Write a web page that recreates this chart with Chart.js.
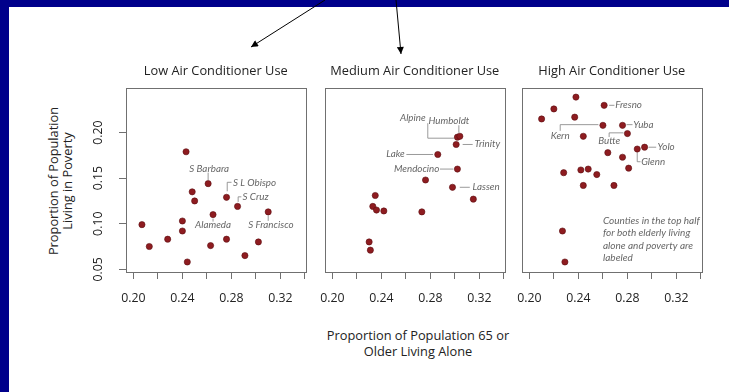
<!DOCTYPE html>
<html>
<head>
<meta charset="utf-8">
<script src="https://cdn.jsdelivr.net/npm/chart.js@4.4.1/dist/chart.umd.min.js"></script>
<style>
  html, body { margin: 0; padding: 0; background: #fff; }
  #page { position: relative; width: 729px; height: 392px; overflow: hidden; background: #fff; font-family: "Open Sans", sans-serif; color: #222; }
  .bar-top { position: absolute; left: 0; top: 0; width: 729px; height: 7px; background: #00008b; }
  .bar-left { position: absolute; left: 0; top: 0; width: 9px; height: 392px; background: #00008b; }
  canvas { position: absolute; }
  .xtitle { position: absolute; left: 298px; width: 240px; top: 328px; text-align: center; font-size: 12.8px; line-height: 15.5px; }
  .ytitle { position: absolute; left: -60px; width: 240px; top: 167px; height: 28px; text-align: center; font-size: 12.8px; line-height: 14px; transform: rotate(-90deg); transform-origin: 120px 14px; }
  svg { position: absolute; left: 0; top: 0; }
</style>
</head>
<body>
<div id="page">
  <canvas id="low" width="241" height="250" style="left:76px;top:60px"></canvas>
  <canvas id="med" width="209" height="250" style="left:307px;top:60px"></canvas>
  <canvas id="high" width="209" height="250" style="left:504px;top:60px"></canvas>
  <div class="ytitle">Proportion of Population<br>Living in Poverty</div>
  <div class="xtitle">Proportion of Population 65 or<br>Older Living Alone</div>
  <div class="bar-top"></div>
  <div class="bar-left"></div>
  <svg width="729" height="392">
    <defs>
      <marker id="head" viewBox="0 0 10 10" refX="10" refY="5" markerWidth="9" markerHeight="7" markerUnits="userSpaceOnUse" orient="auto">
        <path d="M0,0 L10,5 L0,10 z" fill="#000"/>
      </marker>
    </defs>
    <line x1="325" y1="0" x2="251" y2="47" stroke="#000" stroke-width="1" marker-end="url(#head)"/>
    <line x1="396" y1="0" x2="401" y2="54" stroke="#000" stroke-width="1" marker-end="url(#head)"/>
  </svg>
</div>
<script>
// axis ticks
const xTicks = [0.20, 0.22, 0.24, 0.26, 0.28, 0.30, 0.32, 0.34];
const xTickLabels = ['0.20', '0.24', '0.28', '0.32'];
const yTicks = [0.05, 0.10, 0.15, 0.20];

// Low air conditioner use
const lowX = [0.243, 0.261, 0.248, 0.276, 0.250, 0.285, 0.310, 0.265, 0.207, 0.240, 0.240, 0.228, 0.213, 0.263, 0.276, 0.302, 0.291, 0.244];
const lowY = [0.179, 0.144, 0.135, 0.129, 0.125, 0.119, 0.113, 0.110, 0.099, 0.103, 0.092, 0.083, 0.075, 0.076, 0.083, 0.080, 0.065, 0.058];
const lowNames = ['', 'S Barbara', '', 'S L Obispo', '', 'S Cruz', 'S Francisco', 'Alameda', '', '', '', '', '', '', '', '', '', ''];

// Medium air conditioner use
const medX = [0.302, 0.304, 0.301, 0.286, 0.302, 0.276, 0.298, 0.315, 0.235, 0.233, 0.236, 0.242, 0.273, 0.230, 0.231];
const medY = [0.195, 0.196, 0.187, 0.176, 0.160, 0.148, 0.140, 0.127, 0.131, 0.119, 0.115, 0.114, 0.113, 0.080, 0.071];
const medNames = ['Alpine', 'Humboldt', 'Trinity', 'Lake', 'Mendocino', '', 'Lassen', '', '', '', '', '', '', '', ''];

// High air conditioner use
const highX = [0.238, 0.220, 0.261, 0.210, 0.237, 0.260, 0.276, 0.244, 0.280, 0.288, 0.294, 0.264, 0.276, 0.281, 0.228, 0.242, 0.248, 0.255, 0.244, 0.269, 0.227, 0.229];
const highY = [0.239, 0.226, 0.230, 0.215, 0.217, 0.208, 0.208, 0.196, 0.199, 0.182, 0.184, 0.178, 0.173, 0.161, 0.156, 0.159, 0.160, 0.154, 0.142, 0.142, 0.092, 0.058];
const highNames = ['', '', 'Fresno', '', '', 'Kern', 'Yuba', '', 'Butte', 'Glenn', 'Yolo', '', '', '', '', '', '', '', '', '', '', ''];

const noteLines = ['Counties in the top half', 'for both elderly living', 'alone and poverty are', 'labeled'];

// label placement, pixel offsets from the point: t = text anchor, l = leader line
const labelLayout = {
  'S Barbara':   { t: [1, -15], a: 'center', l: [[0, -3.5], [0, -11]] },
  'S L Obispo':  { t: [6.5, -14], a: 'left', l: [[0.7, -6], [0.7, -15], [5, -15]] },
  'S Cruz':      { t: [5, -9.6], a: 'left', l: [[0.6, -4.5], [0.6, -9.6], [3.8, -9.6]] },
  'Alameda':     { t: [0, 10.7], a: 'center', l: [[0, 4], [0, 7]] },
  'S Francisco': { t: [2.7, 13], a: 'center', l: [[0, 3.5], [0, 9]] },
  'Alpine':      { t: [-44.6, -19], a: 'center', l: [[-29.6, -14], [-29.6, 1], [-3.5, 1]] },
  'Humboldt':    { t: [-11, -15.3], a: 'center', l: [[-1, -11], [-1, -3.5]] },
  'Trinity':     { t: [18.3, -1], a: 'left', l: [[6.5, 0], [16.5, 0]] },
  'Lake':        { t: [-33, -1], a: 'right', l: [[-31.4, 0], [-4.7, 0]] },
  'Mendocino':   { t: [-18, 0], a: 'right', l: [[-17.4, 0], [-4, 0]] },
  'Lassen':      { t: [20, 0], a: 'left', l: [[7.3, 0], [17.3, 0]] },
  'Fresno':      { t: [11, 0], a: 'left', l: [[5, 0], [10.3, 0]] },
  'Kern':        { t: [-42.7, 10], a: 'center', l: [[-42.7, 5.5], [-42.7, -0.7], [-4.5, -0.7]] },
  'Yuba':        { t: [10.7, -0.7], a: 'left', l: [[4, -0.7], [10, -0.7]] },
  'Butte':       { t: [-18.3, 7.5], a: 'center', l: [[-18.3, 3.5], [-18.3, -0.7], [-4, -0.7]] },
  'Yolo':        { t: [13, 0], a: 'left', l: [[4, 0], [11.6, 0]] },
  'Glenn':       { t: [4, 12.7], a: 'left', l: [[0, 3.5], [0, 12.7], [3.3, 12.7]] }
};

Chart.defaults.font.family = '"Open Sans", sans-serif';
Chart.defaults.color = '#222';

function panelPlugin(title, names, showY, note) {
  return {
    id: 'panel',
    beforeDatasetsDraw(chart) {
      const ctx = chart.ctx;
      const xs = chart.scales.x, ys = chart.scales.y;
      const ds = chart.data.datasets[0].data;
      ctx.save();
      ctx.strokeStyle = '#808080';
      ctx.lineWidth = 0.8;
      ctx.fillStyle = '#666';
      ctx.font = 'italic 9.8px Lato, sans-serif';
      ctx.textBaseline = 'middle';
      names.forEach(function (n, i) {
        if (!n) return;
        const lay = labelLayout[n];
        const px = xs.getPixelForValue(ds[i].x), py = ys.getPixelForValue(ds[i].y);
        ctx.beginPath();
        lay.l.forEach(function (p, k) {
          if (k === 0) ctx.moveTo(px + p[0], py + p[1]);
          else ctx.lineTo(px + p[0], py + p[1]);
        });
        ctx.stroke();
        ctx.textAlign = lay.a;
        ctx.fillText(n, px + lay.t[0], py + lay.t[1]);
      });
      if (note) {
        const a = chart.chartArea;
        ctx.textAlign = 'left';
        ctx.font = 'italic 10px Lato, sans-serif';
        note.forEach(function (s, k) {
          ctx.fillText(s, a.left + 81, a.top + 133 + k * 12.2);
        });
      }
      ctx.restore();
    },
    afterDraw(chart) {
      const ctx = chart.ctx, a = chart.chartArea;
      ctx.save();
      ctx.strokeStyle = '#707070';
      ctx.lineWidth = 1;
      ctx.strokeRect(Math.round(a.left) + 0.5, Math.round(a.top) + 0.5, Math.round(a.right - a.left), Math.round(a.bottom - a.top));
      ctx.fillStyle = '#222';
      ctx.font = '12.8px "Open Sans", sans-serif';
      ctx.textAlign = 'center';
      ctx.textBaseline = 'middle';
      ctx.fillText(title, (a.left + a.right) / 2, 11);
      if (showY) {
        const ys = chart.scales.y;
        ctx.font = '12.3px "Open Sans", sans-serif';
        yTicks.forEach(function (v) {
          ctx.save();
          ctx.translate(a.left - 28, ys.getPixelForValue(v));
          ctx.rotate(-Math.PI / 2);
          ctx.fillText(v.toFixed(2), 0, 0);
          ctx.restore();
        });
      }
      ctx.restore();
    }
  };
}

function makePanel(id, title, xs, ys, names, showY, note) {
  const pts = xs.map(function (v, i) { return { x: v, y: ys[i] }; });
  return new Chart(document.getElementById(id), {
    type: 'scatter',
    data: {
      datasets: [{
        data: pts,
        pointRadius: 3.1,
        pointHoverRadius: 3.1,
        backgroundColor: '#8e1c20',
        borderColor: '#5c0d10',
        borderWidth: 0.6
      }]
    },
    options: {
      responsive: false,
      animation: false,
      events: [],
      layout: { padding: { top: 28, right: 6, left: showY ? 0 : 18, bottom: 0 } },
      plugins: { legend: { display: false }, tooltip: { enabled: false } },
      scales: {
        x: {
          type: 'linear',
          min: 0.194,
          max: 0.3405,
          afterBuildTicks: function (s) { s.ticks = xTicks.map(function (v) { return { value: v }; }); },
          afterFit: function (s) { s.height = 38; },
          grid: { display: true, drawOnChartArea: false, drawTicks: true, tickLength: 7, color: '#707070' },
          border: { display: false },
          ticks: {
            autoSkip: false,
            maxRotation: 0,
            padding: 12,
            font: { size: 12.3 },
            color: '#222',
            callback: function (v) { const t = Number(v).toFixed(2); return xTickLabels.indexOf(t) >= 0 ? t : ''; }
          }
        },
        y: {
          type: 'linear',
          display: showY,
          min: 0.047,
          max: 0.249,
          afterBuildTicks: function (s) { s.ticks = yTicks.map(function (v) { return { value: v }; }); },
          afterFit: function (s) { s.width = showY ? 50 : 0; },
          grid: { display: true, drawOnChartArea: false, drawTicks: true, tickLength: 7, color: '#707070' },
          border: { display: false },
          ticks: { display: false }
        }
      }
    },
    plugins: [panelPlugin(title, names, showY, note)]
  });
}

makePanel('low', 'Low Air Conditioner Use', lowX, lowY, lowNames, true, null);
makePanel('med', 'Medium Air Conditioner Use', medX, medY, medNames, false, null);
makePanel('high', 'High Air Conditioner Use', highX, highY, highNames, false, noteLines);
</script>
</body>
</html>
